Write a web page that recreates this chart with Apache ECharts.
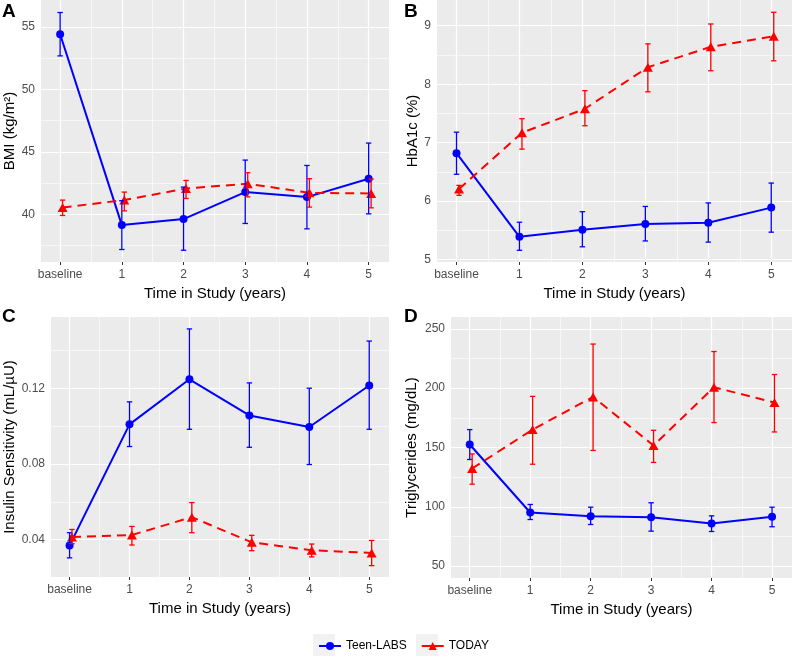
<!DOCTYPE html>
<html>
<head>
<meta charset="utf-8">
<script src="https://cdn.jsdelivr.net/npm/echarts@6/dist/echarts.min.js"></script>
<style>
  html, body { margin: 0; padding: 0; background: #fff; }
  #chart { width: 793px; height: 658px; }
</style>
</head>
<body>
<div id="chart"></div>
<script>
var FONT = '"Liberation Sans", Arial, sans-serif';

// x positions (years in study), TODAY points sit a bit to the right
var years = [0, 1, 2, 3, 4, 5];
var yearLabels = ['baseline', '1', '2', '3', '4', '5'];
var yearMinor = [0.5, 1.5, 2.5, 3.5, 4.5];
var dodge = 0.04;

// A - BMI
var bmiLabs = [54.41, 39.15, 39.63, 41.79, 41.39, 42.86];
var bmiLabsLo = [52.68, 37.20, 37.14, 39.28, 38.85, 40.05];
var bmiLabsHi = [56.15, 41.10, 42.19, 44.35, 43.92, 45.71];
var bmiToday = [40.56, 41.15, 42.08, 42.46, 41.73, 41.68];
var bmiTodayLo = [39.92, 40.29, 41.28, 41.41, 40.59, 40.53];
var bmiTodayHi = [41.15, 41.79, 42.72, 43.34, 42.86, 42.83];
var bmiTicks = [40, 45, 50, 55];
var bmiMinor = [37.5, 42.5, 47.5, 52.5];

// B - HbA1c
var hbLabs = [6.82, 5.39, 5.51, 5.61, 5.63, 5.89];
var hbLabsLo = [6.46, 5.16, 5.22, 5.32, 5.30, 5.47];
var hbLabsHi = [7.18, 5.64, 5.82, 5.91, 5.97, 6.31];
var hbToday = [6.21, 7.17, 7.58, 8.29, 8.64, 8.82];
var hbTodayLo = [6.10, 6.89, 7.29, 7.87, 8.23, 8.40];
var hbTodayHi = [6.27, 7.41, 7.89, 8.69, 9.03, 9.23];
var hbTicks = [5, 6, 7, 8, 9];
var hbMinor = [5.5, 6.5, 7.5, 8.5];

// C - insulin sensitivity
var isLabs = [0.0370, 0.1009, 0.1247, 0.1056, 0.0995, 0.1214];
var isLabsLo = [0.0304, 0.0892, 0.0983, 0.0888, 0.0797, 0.0983];
var isLabsHi = [0.0437, 0.1128, 0.1513, 0.1228, 0.1200, 0.1449];
var isToday = [0.0414, 0.0425, 0.0519, 0.0386, 0.0344, 0.0330];
var isTodayLo = [0.0379, 0.0372, 0.0437, 0.0342, 0.0309, 0.0263];
var isTodayHi = [0.0454, 0.0470, 0.0596, 0.0423, 0.0377, 0.0396];
var isTicks = [0.04, 0.08, 0.12];
var isMinor = [0.06, 0.10, 0.14];

// D - triglycerides
var tgLabs = [152.5, 95.2, 92.1, 91.3, 86.0, 91.6];
var tgLabsLo = [139.9, 89.3, 85.1, 79.5, 79.2, 83.2];
var tgLabsHi = [165.1, 102.0, 99.7, 103.4, 92.4, 99.7];
var tgToday = [132.3, 165.1, 192.6, 151.7, 200.8, 187.9];
var tgTodayLo = [119.1, 135.9, 147.5, 137.4, 171.0, 163.1];
var tgTodayHi = [144.6, 193.1, 237.2, 164.5, 230.9, 211.5];
var tgTicks = [50, 100, 150, 200, 250];
var tgMinor = [75, 125, 175, 225];

var BLUE = '#0000FF';
var RED = '#FF0000';

var panels = [
  { letter: 'A', grid: { left: 41, top: 0, width: 348, height: 262 }, yMin: 36.2, yMax: 57.15,
    yName: 'BMI (kg/m\u00B2)', nameGap: 22, ticks: bmiTicks, minor: bmiMinor, digits: 0,
    labs: [bmiLabs, bmiLabsLo, bmiLabsHi], today: [bmiToday, bmiTodayLo, bmiTodayHi] },
  { letter: 'B', grid: { left: 437, top: 0, width: 355, height: 262 }, yMin: 4.96, yMax: 9.44,
    yName: 'HbA1c (%)', nameGap: 17, ticks: hbTicks, minor: hbMinor, digits: 0,
    labs: [hbLabs, hbLabsLo, hbLabsHi], today: [hbToday, hbTodayLo, hbTodayHi] },
  { letter: 'C', grid: { left: 51, top: 317, width: 338, height: 260 }, yMin: 0.0203, yMax: 0.1576,
    yName: 'Insulin Sensitivity (mL/\u00B5U)', nameGap: 33, ticks: isTicks, minor: isMinor, digits: 2,
    labs: [isLabs, isLabsLo, isLabsHi], today: [isToday, isTodayLo, isTodayHi] },
  { letter: 'D', grid: { left: 451, top: 317, width: 341, height: 261 }, yMin: 40, yMax: 260,
    yName: 'Triglycerides (mg/dL)', nameGap: 32, ticks: tgTicks, minor: tgMinor, digits: 0,
    labs: [tgLabs, tgLabsLo, tgLabsHi], today: [tgToday, tgTodayLo, tgTodayHi] }
];

function shift(xs, d) {
  var out = [];
  for (var i = 0; i < xs.length; i++) { out.push(xs[i] + d); }
  return out;
}

function pairs(xs, ys) {
  var out = [];
  for (var i = 0; i < xs.length; i++) { out.push([xs[i], ys[i]]); }
  return out;
}

function inList(v, list) {
  for (var i = 0; i < list.length; i++) {
    if (Math.abs(list[i] - v) < 1e-6) { return i; }
  }
  return -1;
}

function gridLines(xMajor, xMinor, yMajor, yMinor) {
  var data = [];
  var major = { color: '#FFFFFF', width: 1.2, type: 'solid' };
  var minor = { color: '#FFFFFF', width: 0.6, type: 'solid' };
  for (var i = 0; i < xMinor.length; i++) { data.push({ xAxis: xMinor[i], lineStyle: minor }); }
  for (var i = 0; i < yMinor.length; i++) { data.push({ yAxis: yMinor[i], lineStyle: minor }); }
  for (var i = 0; i < xMajor.length; i++) { data.push({ xAxis: xMajor[i], lineStyle: major }); }
  for (var i = 0; i < yMajor.length; i++) { data.push({ yAxis: yMajor[i], lineStyle: major }); }
  return {
    silent: true, z: 1, symbol: ['none', 'none'], label: { show: false },
    emphasis: { disabled: true }, animation: false, data: data
  };
}

function errorSeries(idx, xs, lo, hi, color) {
  var data = [];
  for (var i = 0; i < xs.length; i++) { data.push([xs[i], lo[i], hi[i]]); }
  return {
    type: 'custom', xAxisIndex: idx, yAxisIndex: idx, z: 4, silent: true, animation: false,
    encode: { x: 0, y: [1, 2] },
    renderItem: function(params, api) {
      var top = api.coord([api.value(0), api.value(2)]);
      var bot = api.coord([api.value(0), api.value(1)]);
      var w = 2.7;
      var style = { stroke: color, lineWidth: 1.3 };
      return { type: 'group', children: [
        { type: 'line', shape: { x1: top[0], y1: top[1], x2: bot[0], y2: bot[1] }, style: style },
        { type: 'line', shape: { x1: top[0] - w, y1: top[1], x2: top[0] + w, y2: top[1] }, style: style },
        { type: 'line', shape: { x1: bot[0] - w, y1: bot[1], x2: bot[0] + w, y2: bot[1] }, style: style }
      ] };
    },
    data: data
  };
}

var grids = [], xAxes = [], yAxes = [], series = [], graphics = [];
var hiddenLine = { show: true, lineStyle: { color: 'rgba(0,0,0,0)', width: 0 } };

for (var p = 0; p < panels.length; p++) {
  (function(idx, pn) {
    var g = pn.grid;
    grids.push({ left: g.left, top: g.top, width: g.width, height: g.height,
      show: true, backgroundColor: '#EBEBEB', borderWidth: 0, containLabel: false });

    xAxes.push({
      type: 'value', gridIndex: idx, min: -0.31, max: 5.33,
      name: 'Time in Study (years)', nameLocation: 'middle', nameGap: 24,
      nameTextStyle: { color: '#000', fontSize: 15, fontFamily: FONT },
      axisLine: hiddenLine,
      axisTick: { show: true, inside: false, length: 3, customValues: years, lineStyle: { color: '#333333', width: 1 } },
      axisLabel: { customValues: years, color: '#4D4D4D', fontSize: 12, fontFamily: FONT, margin: 7,
        formatter: function(v) { var k = inList(v, years); return k < 0 ? '' : yearLabels[k]; } },
      splitLine: { show: false }, minorSplitLine: { show: false }
    });

    yAxes.push({
      type: 'value', gridIndex: idx, min: pn.yMin, max: pn.yMax,
      name: pn.yName, nameLocation: 'middle', nameGap: pn.nameGap,
      nameTextStyle: { color: '#000', fontSize: 15, fontFamily: FONT },
      axisLine: hiddenLine,
      axisTick: { show: true, inside: false, length: 3, customValues: pn.ticks, lineStyle: { color: '#333333', width: 1 } },
      axisLabel: { customValues: pn.ticks, color: '#4D4D4D', fontSize: 12, fontFamily: FONT, margin: 6,
        formatter: function(v) { return inList(v, pn.ticks) < 0 ? '' : v.toFixed(pn.digits); } },
      splitLine: { show: false }, minorSplitLine: { show: false }
    });

    series.push({
      name: 'Teen-LABS', type: 'line', xAxisIndex: idx, yAxisIndex: idx, z: 2, animation: false,
      symbol: 'circle', symbolSize: 8, color: BLUE,
      itemStyle: { color: BLUE }, lineStyle: { color: BLUE, width: 2 },
      data: pairs(years, pn.labs[0]),
      markLine: gridLines(years, yearMinor, pn.ticks, pn.minor)
    });
    series.push({
      name: 'TODAY', type: 'line', xAxisIndex: idx, yAxisIndex: idx, z: 3, animation: false,
      symbol: 'triangle', symbolSize: [10, 9], color: RED,
      itemStyle: { color: RED }, lineStyle: { color: RED, width: 2, type: [9, 6] },
      data: pairs(shift(years, dodge), pn.today[0])
    });
    series.push(errorSeries(idx, years, pn.labs[1], pn.labs[2], BLUE));
    series.push(errorSeries(idx, shift(years, dodge), pn.today[1], pn.today[2], RED));

    var lx = idx % 2 === 0 ? 2 : 404;
    var ly = idx < 2 ? 2 : 307;
    graphics.push({ type: 'text', left: lx, top: ly, silent: true,
      style: { text: pn.letter, font: 'bold 19px ' + FONT, fill: '#000' } });
  })(p, panels[p]);
}

// grey legend key boxes
graphics.push({ type: 'rect', left: 313, top: 634, z: 0, silent: true,
  shape: { width: 22, height: 22 }, style: { fill: '#F2F2F2' } });
graphics.push({ type: 'rect', left: 416, top: 634, z: 0, silent: true,
  shape: { width: 22, height: 22 }, style: { fill: '#F2F2F2' } });

var chart = echarts.init(document.getElementById('chart'), null, { renderer: 'canvas' });
chart.setOption({
  animation: false,
  backgroundColor: '#FFFFFF',
  textStyle: { fontFamily: FONT },
  grid: grids,
  xAxis: xAxes,
  yAxis: yAxes,
  legend: {
    left: 313, top: 635, itemWidth: 22, itemHeight: 10, itemGap: 14,
    textStyle: { color: '#000', fontSize: 12, fontFamily: FONT },
    data: [
      { name: 'Teen-LABS' },
      { name: 'TODAY', lineStyle: { type: 'solid' } }
    ],
    selectedMode: false
  },
  series: series,
  graphic: graphics
});
</script>
</body>
</html>
